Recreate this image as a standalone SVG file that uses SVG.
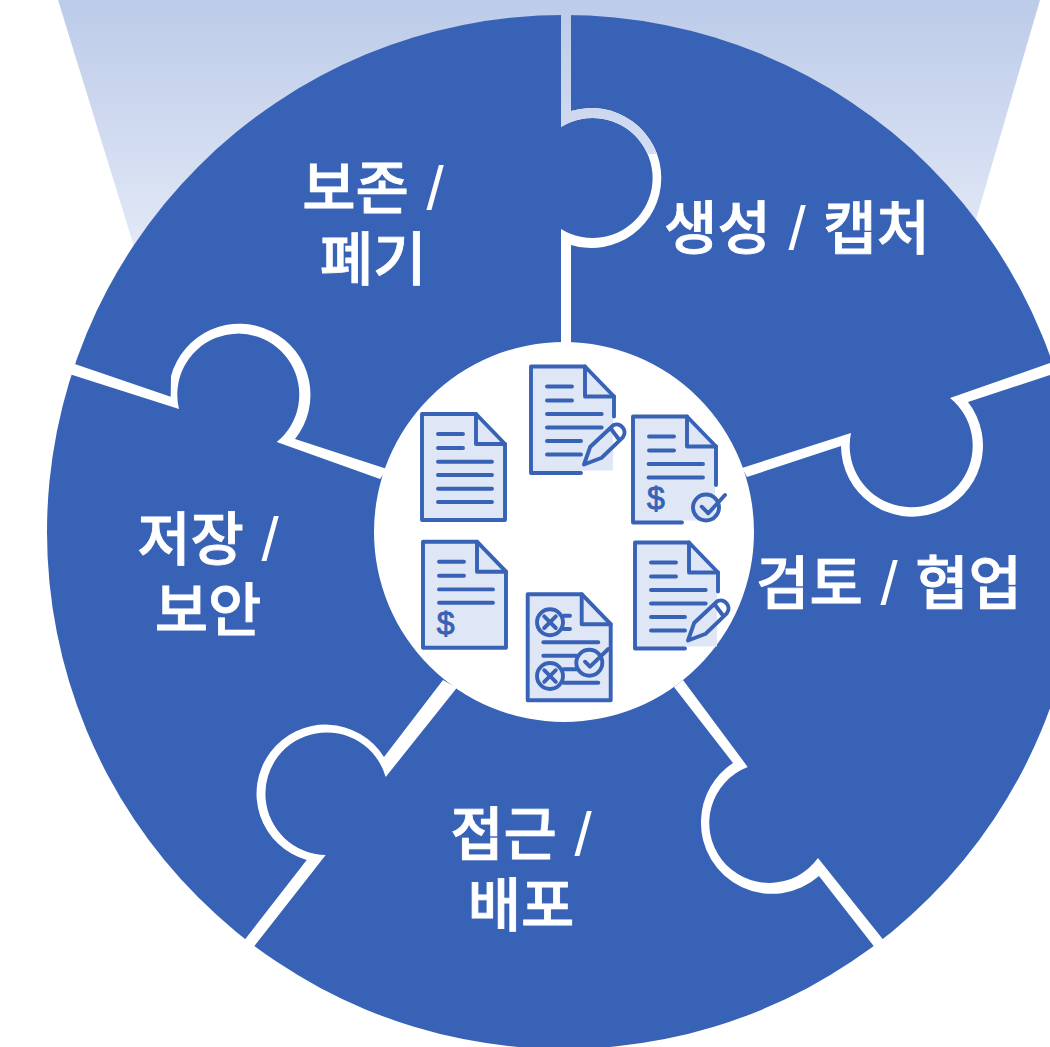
<svg xmlns="http://www.w3.org/2000/svg" width="1050" height="1047" viewBox="0 0 1050 1047">
<style>
.doc{fill:#dfe6f5;stroke:none}
.ln{fill:none;stroke:#3862b6;stroke-width:3.9;stroke-linecap:round;stroke-linejoin:round}
.lb{font-family:"Noto Sans CJK KR","Noto Sans",sans-serif;font-weight:500;font-size:58px;fill:#fff;stroke:#fff;stroke-width:.8;text-anchor:middle;word-spacing:4.5px}
.sl{font-family:"Liberation Sans",sans-serif;font-weight:400;font-size:62px;stroke:none}
.dl{font-family:"Liberation Sans",sans-serif;font-weight:400;font-size:32px;fill:#3862b6;stroke:#3862b6;stroke-width:.9;text-anchor:middle}
</style>
<defs>
<linearGradient id="fade" gradientUnits="userSpaceOnUse" x1="0" y1="0" x2="0" y2="260">
<stop offset="0" stop-color="#bccbe9"/><stop offset="1" stop-color="#e4eaf7"/>
</linearGradient>
<clipPath id="top"><rect x="0" y="0" width="1050" height="154"/></clipPath>
<path id="gap1" d="M561 10V127A60 60 0 1 1 561 229V350H571V245A70 70 0 1 0 571 111V10Z"/>
<g id="short2"><path class="ln" d="M16 20H41M16 34H41"/></g>
<g id="head"><path class="ln" d="M54 0V30H83"/></g>
<g id="full">
<path class="doc" d="M0 0H54L83 30V106H0Z"/>
<path class="ln" d="M0 0H54L83 30V106H0Z"/>
<use href="#head"/><use href="#short2"/>
</g>
<g id="open">
<path class="doc" d="M0 0H54L82 30V104H50V106H0Z"/>
<use href="#head"/><use href="#short2"/>
</g>
<g id="pen">
<path class="ln" d="M53 98L59.3 80.2L82.6 58.5A8 8 0 0 1 91.8 70.8L70.8 91.2ZM80.5 63L88 73"/>
</g>
</defs>
<polygon points="58,0 1040,0 900,480 206,480" fill="url(#fade)"/>
<circle id="disc" cx="564" cy="532" r="517" fill="#3862b6"/>
<g id="connectors" fill="#fff">
<use href="#gap1"/>
<use href="#gap1" fill="url(#fade)" clip-path="url(#top)"/>
<path d="M742 468L851 433A61.5 61.5 0 1 0 950 398L1056 361V373L968 402A71 71 0 1 1 841 446L747 477Z"/>
<path d="M683 680L747.7 767A60 60 0 1 0 818 858L885 942L876 949L819 876A71 71 0 0 1 701 820A71 71 0 0 1 733 763L674 687Z"/>
<path d="M443 680L384 757A69 69 0 1 0 306.7 860L243 942L252 949L325.7 855A61.3 61.3 0 1 1 385.7 777L456.7 688Z"/>
<path d="M66 361L170.7 396.7L171 376A71 71 0 1 1 295 439L387 469L380 479L276.7 442A61 61 0 1 0 179 409L63 372Z"/>
</g>
<circle id="hub" cx="564" cy="532" r="190" fill="#fff"/>
<g id="doc-plain" transform="translate(422 414)">
<use href="#full"/>
<path class="ln" d="M16 47.7H70M16 61H70M16 74.7H70M16 88H70"/>
</g>
<g id="doc-pen-top" transform="translate(531 366.5)">
<use href="#open"/>
<path class="ln" d="M50 106.5H0V0H54L83 30V50"/>
<path class="ln" d="M16 47.5H70.7M16 61H70.7M16 74.5H50M16 88H50"/>
<use href="#pen"/>
</g>
<g id="doc-check" transform="translate(633 416.5)">
<use href="#open"/>
<path class="ln" d="M49 106H0V0H54L83 30V68.5"/>
<path class="ln" d="M15.5 47.5H70M15.5 61H70"/>
<text class="dl" x="23" y="92">$</text>
<circle class="ln" cx="73" cy="91" r="13"/>
<path class="ln" d="M68.7 90.2L75.3 96.8L92 78.5"/>
</g>
<g id="doc-dollar" transform="translate(423 541.7)">
<use href="#full"/>
<path class="ln" d="M16 47.7H70M16 61H70"/>
<text class="dl" x="22.7" y="92">$</text>
</g>
<g id="doc-pen-bottom" transform="translate(635 542.5)">
<use href="#open"/>
<path class="ln" d="M50 106H0V0H54L83 30V49"/>
<path class="ln" d="M16 47.5H70.7M16 61H70.7M16 74.5H50M16 88H50"/>
<use href="#pen"/>
</g>
<g id="doc-review" transform="translate(527.7 594.2)">
<path class="doc" d="M0 0H54L83 30V106H0Z"/>
<path class="ln" d="M0 0H54L83 30V106H0Z"/>
<use href="#head"/>
<circle class="ln" cx="22.3" cy="28" r="13"/>
<path class="ln" d="M16.5 22.2L28.1 33.8M28.1 22.2L16.5 33.8M36 21.5H42.3M36 34.8H42.3M15.6 48H70.6M15.6 61.5H49"/>
<circle class="ln" cx="61.6" cy="68.5" r="13"/>
<path class="ln" d="M57.3 67.5L62.3 72.5L80.6 54.8"/>
<circle class="ln" cx="22.3" cy="81.8" r="13"/>
<path class="ln" d="M16.5 76L28.1 87.6M28.1 76L16.5 87.6M36 75H49M36 88.5H70.6"/>
</g>
<g id="label-retain"><text class="lb" x="373" y="209">보존 <tspan class="sl">/</tspan><tspan x="373" dy="71">폐기</tspan></text></g>
<g id="label-create"><text class="lb" x="797" y="249">생성 <tspan class="sl">/</tspan> 캡처</text></g>
<g id="label-review"><text class="lb" x="889" y="604">검토 <tspan class="sl">/</tspan> 협업</text></g>
<g id="label-store"><text class="lb" x="208" y="560">저장 <tspan class="sl">/</tspan><tspan x="208" dy="71">보안</tspan></text></g>
<g id="label-access"><text class="lb" x="521" y="855">접근 <tspan class="sl">/</tspan><tspan x="521" dy="71">배포</tspan></text></g>
</svg>
